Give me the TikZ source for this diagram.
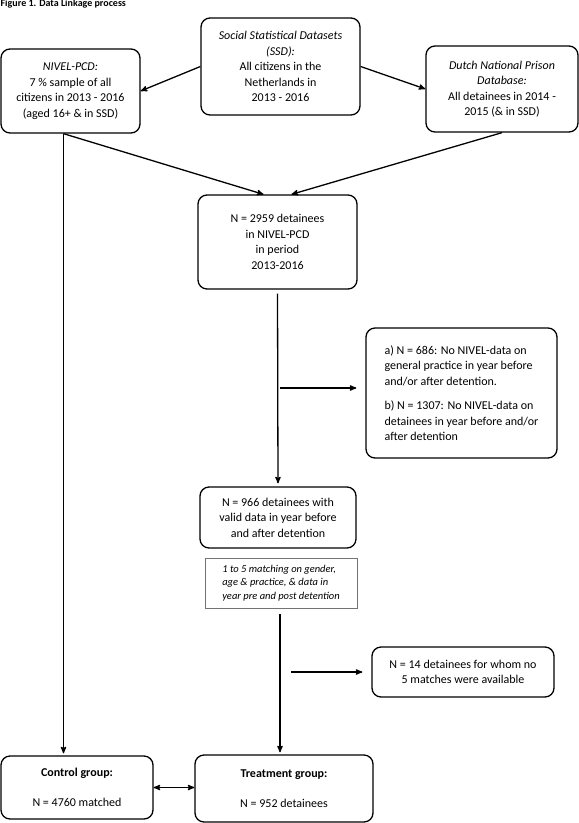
\documentclass[tikz,border=0pt]{standalone}
\usepackage{fontspec}
\setmainfont{Carlito}
\usetikzlibrary{arrows,shapes,calc}

\begin{document}
\begin{tikzpicture}[x=1pt,y=-1pt,->,>=stealth',line width=1.3pt,
    box/.style={shape=rectangle,draw=black,rounded corners=9pt,align=center,
        inner sep=2pt,font=\fontsize{12}{15.5}\selectfont},
    notebox/.style={shape=rectangle,draw=black!55,line width=0.8pt,align=left,
        inner sep=2pt,font=\itshape\fontsize{10.5}{13.5}\selectfont}]
            \useasboundingbox (0,0) rectangle (579,823);
            \node[anchor=base west,inner sep=0pt,font=\bfseries\fontsize{10}{12}\selectfont](Title)at(0, 6){Figure 1. Data Linkage process};
            \node[box,minimum width=159pt,minimum height=97pt](SSD)at(280.5, 66.5){\textit{Social Statistical Datasets}\\\textit{(SSD):}\\All citizens in the\\Netherlands in\\2013 - 2016};
            \node[box,minimum width=139pt,minimum height=84pt](NIVEL)at(70.5, 91){\textit{NIVEL-PCD:}\\7 \% sample of all\\citizens in 2013 - 2016\\(aged 16+ \& in SSD)};
            \node[box,minimum width=152pt,minimum height=86pt](Prison)at(502, 89){\textit{Dutch National Prison}\\\textit{Database:}\\All detainees in 2014 -\\2015 (\& in SSD)};
            \node[box,minimum width=159pt,minimum height=94pt](Linked)at(277.5, 242){N = 2959 detainees\\in NIVEL-PCD\\in period\\2013-2016};
            \node[box,align=left,minimum width=191pt,minimum height=130pt](Missing)at(461.5, 393){a) N = 686: No NIVEL-data on\\general practice in year before\\and/or after detention.\\[9pt]b) N = 1307: No NIVEL-data on\\detainees in year before and/or\\after detention};
            \node[box,minimum width=156pt,minimum height=61pt](Valid)at(278, 517.5){N = 966 detainees with\\valid data in year before\\and after detention};
            \node[notebox,minimum width=152pt,minimum height=50pt](Matching)at(281, 583){1 to 5 matching on gender,\\age \& practice, \& data in\\year pre and post detention};
            \node[box,minimum width=182pt,minimum height=50pt](NoMatch)at(463, 672){N = 14 detainees for whom no\\5 matches were available};
            \node[box,minimum width=152pt,minimum height=63pt](Control)at(77, 787.5){\textbf{Control group:}\\[15pt]N = 4760 matched};
            \node[box,minimum width=178pt,minimum height=67pt](Treatment)at(284, 788.5){\textbf{Treatment group:}\\[15pt]N = 952 detainees};
            \coordinate(Split)at($(Linked.south)!0.5!(Valid.north)$);
            \path[](SSD.west) edge (NIVEL.east)
            (SSD.east) edge (Prison.west)
            ([xshift=-7pt]NIVEL.south) edge ([xshift=-14pt]Linked.north)
            (Prison.south) edge ([xshift=14pt]Linked.north)
            ([xshift=-7pt]NIVEL.south) edge[shorten >=2pt] ([xshift=-7pt]NIVEL.south |- Control.north)
            (Linked.south) edge[shorten <=4pt,shorten >=3pt] (Valid.north)
            ([xshift=2pt]Split) edge[shorten >=9pt] (Split -| Missing.west)
            ([xshift=-1pt]Matching.south) edge[shorten <=6pt,shorten >=2pt] ([xshift=-1pt]Matching.south |- Treatment.north)
            ([xshift=10pt]Matching.south |- NoMatch.west) edge[shorten >=9pt] (NoMatch.west)
            (Control.east) edge[<->] (Control.east -| Treatment.west);
        \end{tikzpicture}
\end{document}
